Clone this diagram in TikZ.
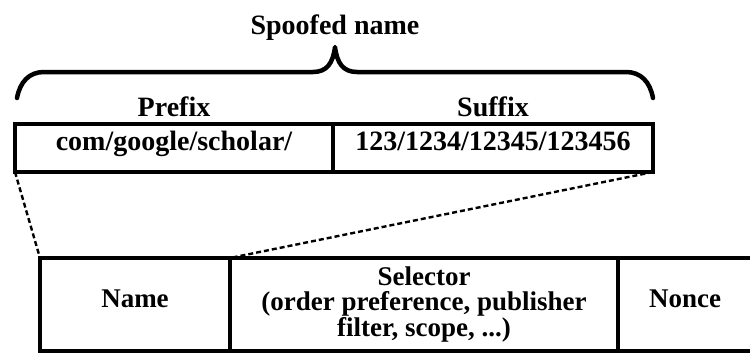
\documentclass[tikz,border=0pt]{standalone}
\usepackage{fontspec}
\setmainfont{Liberation Serif}
\usetikzlibrary{positioning}
\tikzset{
  cell/.style={draw, line width=3.5pt, outer sep=0pt, inner sep=0pt, align=center},
  topcell/.style={cell, minimum height=48pt, text height=0.7em, text depth=0.3em,
    font=\fontsize{28}{28}\selectfont\bfseries},
  botcell/.style={cell, minimum height=93pt,
    font=\fontsize{27}{24.5}\selectfont\bfseries},
  onecell/.style={botcell, text height=0.75em, text depth=0.1em},
  tag/.style={inner sep=0pt, outer sep=0pt, font=\fontsize{28}{28}\selectfont\bfseries},
  link/.style={line width=2.4pt, dash pattern=on 5pt off 3pt},
  spanbrace/.style={line width=4.5pt, line cap=round, line join=round},
}
\begin{document}
\begin{tikzpicture}[x=1pt, y=-1pt]
  \useasboundingbox (0,0) rectangle (750,354);
  \clip (0,0) rectangle (750,354);

  % spoofed name split into prefix and suffix
  \node[topcell, minimum width=318pt] (prefix) at (174,148) {com/google/scholar/};
  \node[topcell, minimum width=320pt, right=0pt of prefix] (suffix) {123/1234/12345/123456};
  \node[tag, above=7pt of prefix] (prefixtag) {Prefix};
  \node[tag, above=7pt of suffix] (suffixtag) {Suffix};
  \node[tag, anchor=base] (spoofed) at (335,34) {Spoofed name};

  % curly brace over both parts
  \draw[spanbrace] (17,98) .. controls (20,82) and (29,72) .. (44,72) -- (313,72)
    .. controls (327,72) and (333,63) .. (335,47)
    .. controls (337,63) and (343,72) .. (357,72) -- (626,72)
    .. controls (641,72) and (650,82) .. (653,98);

  % interest packet fields
  \node[onecell, minimum width=190pt] (name) at (135,304.5) {Name};
  \node[botcell, minimum width=388pt, right=0pt of name] (selector)
    {Selector\\(order preference, publisher\\filter, scope, ...)};
  \node[onecell, minimum width=134pt, right=0pt of selector] (nonce) {Nonce};

  \draw[link] (prefix.south west) -- (name.north west);
  \draw[link] (suffix.south east) -- (selector.north west);
\end{tikzpicture}
\end{document}
